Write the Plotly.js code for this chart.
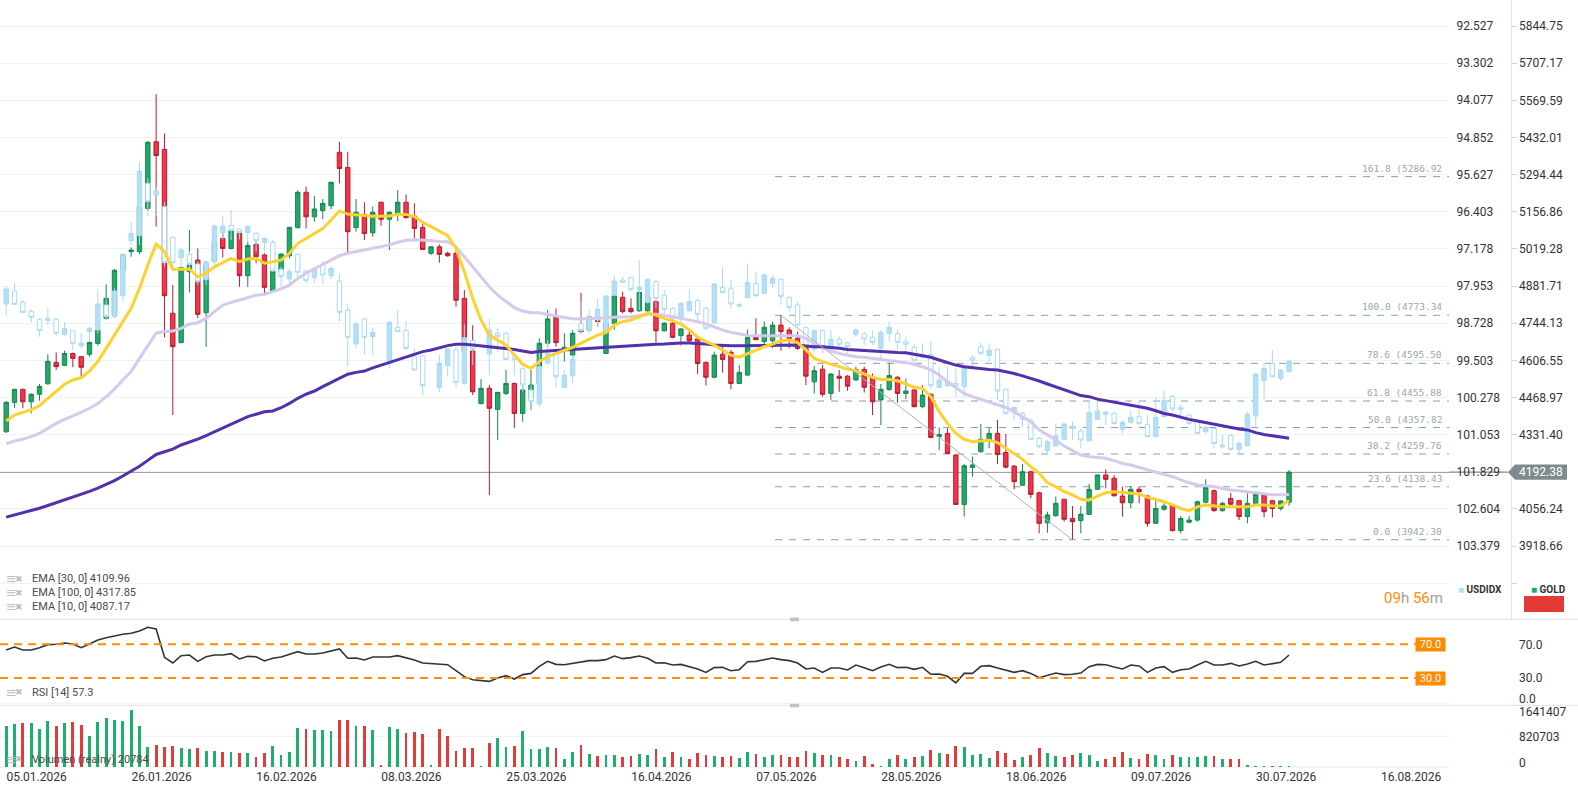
<!DOCTYPE html>
<html>
<head>
<meta charset="utf-8">
<script src="https://cdn.plot.ly/plotly-3.0.1.min.js"></script>
<style>html,body{margin:0;padding:0;background:#fff;}#chart{width:1578px;height:792px;}</style>
</head>
<body>
<div id="chart"></div>
<script>
// ---------------- DATA ----------------
const goldOpen = [4342,4451,4499,4453,4481,4520,4599,4588,4632,4620,
4629,4669,4762,4774,4940,5009,5009,5169,5416,5388,
4781,4672,4935,4978,4783,4974,5058,5021,5079,4920,
5036,4997,4864,4935,4994,5098,5229,5138,5161,5179,
5377,5321,5098,5147,5079,5192,5129,5148,5192,5141,
5099,5003,5027,5003,5003,4836,4641,4447,4503,4425,
4484,4521,4410,4466,4521,4670,4765,4645,4626,4719,
4719,4762,4632,4744,4840,4799,4790,4790,4824,4716,
4744,4698,4700,4686,4599,4544,4629,4636,4521,4552,
4692,4676,4679,4737,4719,4688,4657,4527,4574,4484,
4548,4548,4534,4573,4540,4460,4499,4544,4484,4497,
4435,4481,4324,4336,4256,4073,4210,4268,4311,4336,
4265,4215,4144,4194,4116,4005,4031,4092,4021,4013,
4036,4129,4182,4170,4104,4079,4129,4104,4003,4055,
4070,3976,4007,4015,4081,4124,4050,4095,4087,4028,
4077,4108,4087,4058,4081];
const goldHigh = [4456,4502,4502,4484,4519,4629,4636,4642,4635,4623,
4678,4727,4888,4945,5000,5025,5256,5419,5592,5447,
4886,4953,5089,5021,4972,5083,5089,5108,5086,5046,
5046,5003,4940,5003,5101,5237,5250,5215,5204,5268,
5416,5379,5204,5192,5176,5194,5157,5237,5221,5188,
5122,5030,5036,5009,5021,4867,4737,4537,4515,4490,
4571,4524,4527,4571,4688,4793,4799,4707,4719,4857,
4771,4793,4768,4848,4861,4836,4865,4848,4830,4748,
4787,4725,4725,4688,4602,4639,4657,4645,4589,4721,
4762,4750,4750,4773.34,4729,4713,4660,4586,4589,4558,
4571,4552,4583,4583,4558,4519,4598,4548,4539,4499,
4515,4484,4358,4355,4260,4223,4250,4371,4357,4386,
4334,4219,4223,4198,4120,4046,4102,4094,4067,4067,
4149,4184,4203,4182,4139,4141,4139,4108,4095,4077,
4074,4030,4030,4087,4166,4129,4083,4116,4089,4114,
4114,4112,4089,4088,4200];
const goldLow = [4338,4431,4429,4410,4457,4516,4571,4585,4581,4546,
4620,4661,4758,4770,4935,4990,5000,5160,5102,4692,
4404,4670,4858,4763,4657,4970,4987,5018,4879,4879,
4966,4851,4861,4916,4984,5095,5095,5120,5130,5166,
5262,5003,5083,5052,5064,5105,5015,5122,5132,5058,
5015,4997,4968,4990,4805,4577,4478,4443,4108,4311,
4478,4355,4379,4422,4509,4657,4657,4602,4608,4707,
4715,4731,4630,4719,4781,4781,4787,4787,4672,4713,
4688,4661,4676,4556,4513,4540,4561,4500,4519,4550,
4683,4657,4651,4642,4651,4645,4515,4484,4472,4460,
4490,4494,4531,4487,4404,4367,4494,4450,4463,4432,
4429,4318,4274,4260,4071,4028,4176,4265,4281,4223,
4207,4129,4141,4096,3966,3968,4028,4009,3942.3,3966,
4034,4126,4132,4102,4028,4058,4077,3991,4000,4050,
3973,3966,4003,4009,4077,4046,4046,4071,4015,4003,
4070,4025,4025,4050,4068];
const goldClose = [4451,4499,4453,4481,4510,4603,4583,4632,4614,4581,
4673,4719,4836,4940,4997,5015,5176,5414,5365,4846,
4657,4950,4960,4777,4960,5046,5021,5086,4920,5032,
4990,4877,4937,5000,5099,5229,5138,5167,5188,5266,
5317,5083,5155,5076,5155,5129,5155,5192,5135,5095,
5017,5027,4999,4994,4829,4641,4490,4503,4429,4488,
4521,4410,4497,4515,4670,4760,4672,4655,4707,4713,
4768,4750,4744,4845,4787,4787,4858,4842,4716,4744,
4692,4723,4679,4595,4544,4626,4610,4521,4562,4692,
4683,4729,4737,4713,4688,4651,4548,4568,4481,4556,
4540,4511,4573,4507,4453,4499,4550,4484,4493,4435,
4478,4321,4332,4262,4073,4216,4219,4314,4336,4258,
4211,4157,4194,4110,4003,4034,4077,4018,4009,4037,
4129,4182,4166,4105,4079,4129,4120,4003,4058,4067,
3976,4021,4015,4083,4136,4050,4077,4074,4028,4077,
4110,4046,4058,4086,4192.38];

const usdOpen = [98.327,98.056,98.292,98.48,98.647,98.626,98.647,98.96,98.883,99.196,
98.904,98.869,98.348,98.591,98.153,97.006,96.901,95.809,96.053,96.296,
96.936,97.36,97.291,97.492,97.812,97.444,96.839,96.686,96.762,96.839,
96.853,97.047,97.04,97.603,97.805,97.291,97.638,97.777,97.499,97.736,
97.847,98.452,99.161,98.64,99.008,null,99.564,98.813,98.876,99.412,
99.412,null,100.072,99.613,99.286,99.982,99.092,null,99.37,98.939,
98.939,99.412,99.669,100.121,100.413,99.551,99.356,100.066,99.822,98.73,
98.869,98.661,98.904,98.139,97.826,97.771,98.035,98.292,97.861,98.139,
98.417,98.64,98.466,98.257,98.417,98.716,97.98,98.0,98.334,98.195,
97.896,98.105,97.896,97.812,98.188,98.348,98.814,99.273,98.883,99.252,
99.064,99.134,98.96,98.953,99.022,99.252,98.939,98.939,99.113,99.231,
99.377,99.377,100.066,100.038,99.982,100.052,99.44,99.217,99.405,99.273,
100.107,100.594,100.608,100.761,101.13,101.387,101.289,101.15,100.921,100.976,
101.178,100.733,100.629,100.608,100.942,100.796,100.677,100.837,101.095,100.677,
100.26,100.49,100.643,100.768,100.99,100.921,101.269,101.074,101.359,101.282,
100.664,99.926,99.565,99.878,99.739];
const usdHigh = [98.570,98.348,98.515,98.709,99.008,98.765,98.987,98.987,99.286,99.252,
99.113,98.939,98.661,98.626,98.278,97.096,97.096,96.505,96.505,97.548,
97.569,97.569,97.569,97.93,97.93,97.513,96.978,96.992,96.978,97.026,
97.235,97.235,97.652,97.965,97.965,97.791,97.896,97.896,97.916,97.805,
98.695,99.634,99.252,99.377,99.405,null,99.669,98.904,99.286,99.724,
100.239,null,100.17,99.843,100.065,100.003,99.599,null,99.808,99.321,
99.495,99.808,100.156,100.538,100.469,99.6,100.066,100.087,99.968,98.974,
98.939,98.8,98.939,98.174,97.896,98.07,98.452,98.313,98.417,98.591,
98.696,98.744,98.487,98.696,98.869,98.744,98.105,98.417,98.417,98.209,
98.174,98.118,98.0,98.348,98.487,98.8,99.252,99.321,99.356,99.356,
99.217,99.356,99.008,99.182,99.182,99.461,99.113,99.287,99.287,99.53,
99.461,100.087,100.087,100.045,100.26,100.26,99.635,99.391,99.53,100.33,
100.643,100.747,100.886,101.165,101.338,101.477,101.303,101.164,101.164,101.338,
101.199,100.747,100.851,100.851,101.025,100.817,100.851,101.109,101.109,100.691,
100.573,100.677,100.851,101.039,101.025,101.338,101.338,101.373,101.477,101.303,
100.9,100.316,99.864,99.926,99.759];
const usdLow = [97.965,97.896,98.243,98.431,98.626,98.41,98.605,98.709,98.869,98.939,
98.8,98.014,98.209,98.0,97.27,96.616,95.371,95.705,95.879,96.206,
96.922,97.165,97.235,97.444,97.43,96.665,96.491,96.366,96.748,96.679,
96.818,96.95,96.992,97.548,97.583,97.27,97.617,97.548,97.43,97.548,
97.708,98.313,98.695,98.626,98.82,null,98.681,98.452,98.681,99.252,
99.391,null,99.391,99.252,99.217,98.751,99.078,null,98.64,98.834,
98.904,99.391,99.655,100.017,99.287,99.078,99.252,99.704,99.391,98.278,
98.452,98.209,98.139,97.743,97.757,97.757,97.409,97.792,97.826,98.035,
98.383,98.278,98.021,98.209,98.383,97.896,97.548,97.826,98.313,97.479,
97.652,97.687,97.722,97.792,98.174,98.278,98.8,98.856,98.856,98.869,
98.995,99.113,98.835,98.904,98.883,98.869,98.696,98.856,99.008,99.148,
99.148,99.113,99.635,99.635,99.669,99.6,99.391,99.134,99.148,99.252,
100.087,100.469,100.573,100.712,101.095,101.164,100.817,100.817,100.782,100.921,
100.33,100.364,100.573,100.573,100.747,100.538,100.344,100.643,100.26,100.135,
100.225,100.434,100.622,100.733,100.872,100.9,101.06,101.039,101.199,100.573,
99.773,99.551,99.287,99.69,99.509];
const usdClose = [98.014,98.334,98.501,98.605,98.883,98.675,98.939,98.834,99.147,99.14,
98.834,98.327,98.591,98.056,97.305,96.853,95.552,96.192,95.969,97.464,
97.464,97.2,97.499,97.861,97.444,96.7,96.7,96.797,96.839,96.713,
97.006,96.957,97.638,97.756,97.652,97.666,97.84,97.583,97.722,97.583,
98.501,99.022,98.744,99.022,98.918,null,98.709,98.904,99.252,99.704,
100.03,null,99.564,99.265,99.961,99.029,99.265,null,98.869,99.008,
99.481,99.481,100.017,100.364,99.634,99.356,99.843,99.808,99.474,98.883,
98.591,98.438,98.16,97.847,97.875,98.021,97.98,97.812,98.209,98.438,
98.64,98.313,98.278,98.543,98.835,97.91,98.091,98.327,98.369,97.875,
98.153,97.722,97.792,98.174,98.397,98.765,99.217,98.883,99.217,99.064,
99.168,99.217,98.869,99.057,99.127,98.918,98.814,99.127,99.168,99.509,
99.44,100.031,99.913,99.934,100.038,99.655,99.496,99.356,99.287,100.142,
100.608,100.483,100.733,101.151,101.304,101.199,101.081,100.83,100.872,101.164,
100.594,100.559,100.58,100.817,100.796,100.691,100.817,101.095,100.691,100.344,
100.517,100.524,100.817,101.025,100.9,101.234,101.303,101.359,101.234,100.622,
99.787,99.669,99.843,99.704,99.516];

const ema10 = [4382,4404,4414,4423,4439,4466,4490,4518,4534,4542,
4567,4602,4651,4703,4750,4799,4873,4960,5037,5009,
4944,4944,4945,4916,4929,4953,4968,4984,4972,4982,
4984,4966,4972,4978,5003,5040,5058,5077,5095,5126,
5160,5148,5145,5141,5140,5140,5141,5148,5147,5139,
5118,5102,5085,5068,5021,4935,4836,4756,4700,4682,
4663,4626,4592,4577,4602,4620,4632,4645,4655,4670,
4684,4700,4709,4737,4750,4756,4768,4781,4774,4762,
4753,4741,4719,4692,4676,4663,4645,4626,4618,4632,
4645,4657,4667,4679,4682,4672,4645,4614,4602,4593,
4583,4574,4568,4556,4544,4536,4536,4531,4519,4507,
4503,4472,4416,4373,4336,4314,4305,4309,4311,4302,
4281,4258,4240,4213,4188,4153,4139,4120,4108,4092,
4089,4104,4116,4120,4116,4114,4112,4099,4092,4083,
4071,4058,4050,4064,4071,4068,4064,4064,4064,4064,
4071,4071,4067,4068,4087.17];
const ema30 = [4297,4308,4315,4324,4336,4355,4373,4388,4400,4414,
4429,4447,4472,4500,4534,4565,4614,4663,4707,4713,
4715,4725,4741,4746,4762,4787,4811,4821,4830,4840,
4848,4851,4861,4871,4885,4910,4929,4945,4960,4978,
4994,5003,5009,5015,5021,5026,5034,5044,5051,5053,
5052,5050,5047,5046,5027,4990,4953,4916,4879,4848,
4824,4802,4789,4783,4783,4778,4771,4765,4761,4760,
4760,4762,4765,4766,4768,4768,4772,4777,4777,4773,
4768,4762,4756,4750,4741,4729,4719,4710,4704,4699,
4698,4698,4698,4698,4697,4698,4688,4670,4653,4642,
4632,4626,4620,4618,4614,4610,4608,4604,4598,4592,
4583,4571,4552,4527,4506,4484,4472,4462,4453,4441,
4432,4416,4398,4379,4349,4330,4312,4289,4274,4256,
4250,4246,4244,4235,4225,4219,4210,4200,4192,4184,
4176,4163,4153,4145,4142,4139,4132,4126,4124,4120,
4116,4112,4109,4109,4109.96];
const ema100 = [4026,4034,4042,4050,4059,4069,4079,4090,4100,4110,
4121,4133,4146,4161,4178,4195,4214,4236,4258,4268,
4278,4293,4303,4315,4328,4342,4357,4370,4386,4398,
4407,4416,4419,4431,4447,4466,4481,4493,4509,4525,
4540,4555,4562,4567,4579,4589,4599,4610,4620,4629,
4639,4645,4653,4661,4666,4666,4663,4660,4656,4653,
4651,4647,4641,4636,4639,4641,4642,4645,4647,4649,
4651,4653,4655,4657,4660,4661,4663,4665,4666,4667,
4670,4671,4671,4670,4667,4663,4661,4661,4661,4661,
4661,4661,4662,4663,4662,4663,4660,4657,4657,4655,
4651,4647,4645,4642,4641,4639,4637,4636,4635,4630,
4624,4618,4608,4598,4589,4583,4579,4576,4573,4571,
4565,4558,4549,4540,4530,4519,4509,4497,4487,4476,
4472,4463,4457,4453,4447,4441,4435,4429,4420,4410,
4404,4395,4388,4382,4376,4371,4363,4358,4352,4349,
4339,4332,4328,4324,4317.85];

const rsi14 = [63.3,66.8,63.3,63.3,66.0,69.6,70.0,71.6,70.4,66.0,
70.4,75.1,77.9,80.3,81.9,83.1,85.8,90.2,88.2,54.6,
47.8,56.5,57.3,49.8,55.3,57.3,57.3,58.9,52.6,55.7,
55.3,50.2,53.4,55.0,57.7,61.3,58.5,58.5,59.7,61.7,
64.5,53.4,53.8,51.4,55.0,55.0,55.0,56.5,54.2,51.4,
47.8,47.4,47.0,45.8,38.7,31.6,28.0,27.2,26.0,30.0,
32.8,28.8,34.0,35.5,43.9,49.8,46.2,45.8,47.4,49.4,
50.6,50.6,51.8,56.1,53.0,54.2,56.1,53.4,47.8,48.2,
45.4,46.2,43.9,40.7,36.7,42.3,42.7,38.7,39.9,49.4,
49.8,52.2,53.8,51.8,50.6,47.8,40.7,41.9,36.7,41.9,
41.9,39.5,45.4,42.3,38.7,43.1,46.2,42.3,42.7,40.3,
42.7,34.4,34.8,32.0,24.1,35.5,35.5,43.9,44.7,41.9,
39.1,36.7,38.7,35.5,30.4,33.6,35.9,34.0,34.4,35.9,
43.5,46.2,45.8,43.1,40.7,45.4,44.3,36.7,41.9,43.5,
36.7,39.9,40.7,45.4,49.8,45.4,45.4,47.4,44.3,46.6,
49.8,45.4,46.6,48.6,57.3];

const volume = [1091000,1144000,1170000,1170000,1013000,1222000,1091000,1170000,1196000,1118000,
829000,1196000,1301000,1266000,1222000,1537000,1091000,541000,585000,541000,
568000,515000,471000,515000,437000,437000,410000,410000,384000,384000,
279000,384000,568000,332000,410000,1039000,1013000,987000,987000,960000,
1249000,1249000,1091000,1091000,987000,44000,1065000,1013000,917000,934000,
882000,44000,1013000,829000,437000,515000,515000,17000,646000,777000,
541000,568000,960000,489000,489000,541000,515000,227000,410000,594000,
358000,306000,332000,332000,279000,306000,358000,332000,489000,279000,
410000,279000,227000,384000,332000,306000,262000,306000,236000,410000,
358000,279000,332000,332000,262000,262000,437000,384000,332000,332000,
279000,227000,148000,306000,70000,17000,201000,332000,227000,279000,
306000,463000,384000,358000,568000,541000,332000,358000,253000,437000,
384000,175000,279000,332000,515000,384000,306000,279000,332000,384000,
332000,148000,227000,279000,410000,253000,227000,358000,332000,227000,
332000,279000,279000,279000,306000,306000,227000,227000,227000,61000,
17000,17000,17000,17000,20784];

const dateTickBars = [4,19,34,49,64,79,94,109,124,139,154,169];
const dateTickText = ['05.01.2026','26.01.2026','16.02.2026','08.03.2026','25.03.2026','16.04.2026','07.05.2026','28.05.2026','18.06.2026','09.07.2026','30.07.2026','16.08.2026'];

const goldTickVals = [5844.75,5707.17,5569.59,5432.01,5294.44,5156.86,5019.28,4881.71,4744.13,4606.55,4468.97,4331.40,4193.82,4056.24,3918.66,3781.08];
const goldTickText = ['5844.75','5707.17','5569.59','5432.01','5294.44','5156.86','5019.28','4881.71','4744.13','4606.55','4468.97','4331.40','','4056.24','3918.66',''];
const usdTickVals = [92.527,93.302,94.077,94.852,95.627,96.403,97.178,97.953,98.728,99.503,100.278,101.053,101.829,102.604,103.379];
const usdTickText = ['92.527','93.302','94.077','94.852','95.627','96.403','97.178','97.953','98.728','99.503','100.278','101.053','101.829','102.604','103.379'];
const rsiTickVals = [4.75,30,70];
const rsiTickText = ['0.0','30.0','70.0'];
const volTickVals = [107000,820703,1489000];
const volTickText = ['0','820703','1641407'];

const fibLevels = [161.8,100.0,78.6,61.8,50.0,38.2,23.6,0.0];
const fibPrices = [5286.92,4773.34,4595.50,4455.88,4357.82,4259.76,4138.43,3942.30];
const fibStartBar = 92.3;
const trendFrom = {bar:93, price:4773.34};
const trendTo = {bar:128, price:3942.30};
const lastPrice = 4192.38;
const rsiLevels = [70,30];
const legendEma = ['EMA [30, 0] 4109.96','EMA [100, 0] 4317.85','EMA [10, 0] 4087.17'];
const legendRsi = 'RSI [14] 57.3';
const legendVol = 'Volumen (realny) 20784';

// ---------------- LAYOUT HELPERS ----------------
const W = 1578, H = 792, PH = 768;
const px = x => x / W;
const py = y => (PH - y) / PH;
const xRange = [-0.744, 173.2];
const goldRange = [3647.55, 5941.04];
const usdRange = [104.904, 91.985];
const rsiRange = [-2.4, 99.7];
const volRange = [-26733, 1649426];
const mainBottom = py(619.3);
const goldToPaper = v => mainBottom + (v - goldRange[0]) / (goldRange[1] - goldRange[0]) * (1 - mainBottom);

const idx = goldClose.map((_, i) => i);
const volColors = goldClose.map((c, i) => c >= goldOpen[i] ? '#1db06c' : '#e53a3a');

const traces = [
  {type:'candlestick', x:idx, open:goldOpen, high:goldHigh, low:goldLow, close:goldClose,
   xaxis:'x', yaxis:'y', whiskerwidth:0, hoverinfo:'skip',
   increasing:{line:{color:'#17864f', width:1}, fillcolor:'#23a86a'},
   decreasing:{line:{color:'#b51d2d', width:1}, fillcolor:'#f5334b'}},
  {type:'candlestick', x:idx, open:usdOpen, high:usdHigh, low:usdLow, close:usdClose,
   xaxis:'x', yaxis:'y2', whiskerwidth:0, hoverinfo:'skip',
   increasing:{line:{color:'#a8daf4', width:1}, fillcolor:'#ffffff'},
   decreasing:{line:{color:'#a8daf4', width:1}, fillcolor:'#b4e0f7'}},
  {type:'scatter', mode:'lines', x:idx, y:ema30, xaxis:'x', yaxis:'y5', line:{color:'#d5c9ec', width:3}, hoverinfo:'skip'},
  {type:'scatter', mode:'lines', x:idx, y:ema100, xaxis:'x', yaxis:'y5', line:{color:'#5330ad', width:3}, hoverinfo:'skip'},
  {type:'scatter', mode:'lines', x:idx, y:ema10, xaxis:'x', yaxis:'y5', line:{color:'#fdd22e', width:3}, hoverinfo:'skip'},
  {type:'scatter', mode:'lines', x:idx, y:rsi14, xaxis:'x', yaxis:'y3', line:{color:'#2f3437', width:1.6}, hoverinfo:'skip'},
  {type:'bar', x:idx, y:volume, xaxis:'x', yaxis:'y4', width:0.33, marker:{color:volColors, line:{width:0}}, hoverinfo:'skip'}
];

const axisFont = {family:'Roboto, sans-serif', size:12, color:'#333'};
const shapes = [];
const annotations = [];
function note(o) { annotations.push(Object.assign({showarrow:false, xanchor:'center', yanchor:'middle'}, o)); }

// separators and handles
[619.3, 705.3].forEach(y => {
  shapes.push({type:'line', xref:'paper', yref:'paper', x0:0, x1:1, y0:py(y), y1:py(y), line:{color:'#e2e2e2', width:1}});
  shapes.push({type:'rect', xref:'paper', yref:'paper', x0:px(790), x1:px(799), y0:py(y+2), y1:py(y-1.8), fillcolor:'#c2c2c2', line:{width:0}});
});

// fibonacci levels
fibLevels.forEach((lv, k) => {
  const p = fibPrices[k];
  shapes.push({type:'line', xref:'x', yref:'y', x0:fibStartBar, x1:xRange[1], y0:p, y1:p, layer:'below',
    line:{color:'#8c9ea7', width:1, dash:'7px,7px'}});
  note({xref:'paper', yref:'y', x:px(1444), y:p, xanchor:'right', yanchor:'bottom', yshift:1,
    text: lv.toFixed(1) + ' (' + p.toFixed(2),
    font:{family:'DejaVu Sans Mono, monospace', size:9.5, color:'#9aa7ae'}});
});
// trend line of the fib retracement
shapes.push({type:'line', xref:'x', yref:'y', x0:trendFrom.bar, y0:trendFrom.price, x1:trendTo.bar, y1:trendTo.price,
  line:{color:'#a9b5bb', width:1}});

// last price line + label
const lpY = goldToPaper(lastPrice);
shapes.push({type:'line', xref:'paper', yref:'paper', x0:0, x1:px(1508), y0:lpY, y1:lpY, layer:'below', line:{color:'#7d888d', width:1.2}});
const hh = 7.6 / PH;
shapes.push({type:'path', xref:'paper', yref:'paper',
  path:'M ' + px(1508) + ' ' + lpY + ' L ' + px(1515) + ' ' + (lpY + hh) + ' L ' + px(1567) + ' ' + (lpY + hh) +
       ' L ' + px(1567) + ' ' + (lpY - hh) + ' L ' + px(1515) + ' ' + (lpY - hh) + ' Z',
  fillcolor:'#7f8a8f', line:{width:0}});
note({xref:'paper', yref:'paper', x:px(1541), y:lpY, text:lastPrice.toFixed(2),
  font:{family:'Roboto, sans-serif', size:12, color:'#ffffff'}});

// RSI level lines + boxes
rsiLevels.forEach(l => {
  shapes.push({type:'line', xref:'x', yref:'y3', x0:xRange[0], x1:169.2, y0:l, y1:l,
    line:{color:'#ff8f00', width:2, dash:'8px,6px'}});
  note({xref:'paper', yref:'y3', x:px(1430.5), y:l, text:l.toFixed(1),
    bgcolor:'#ff8c00', width:29, height:13, borderpad:0,
    font:{family:'Roboto, sans-serif', size:11, color:'#ffffff'}});
});
shapes.push({type:'line', xref:'x', yref:'y3', x0:xRange[0], x1:xRange[1], y0:0, y1:0, line:{color:'#efefef', width:1}});

// volume grid
shapes.push({type:'line', xref:'x', yref:'y4', x0:xRange[0], x1:xRange[1], y0:820703, y1:820703, layer:'below', line:{color:'#efefef', width:1}});
shapes.push({type:'line', xref:'x', yref:'y4', x0:xRange[0], x1:xRange[1], y0:0, y1:0, layer:'below', line:{color:'#ececec', width:1}});

// legend texts
function legendRow(t, y) {
  note({xref:'paper', yref:'paper', x:px(4), y:py(y), xanchor:'left', text:'≡',
    font:{family:'DejaVu Sans', size:13, color:'#bdbdbd'}});
  note({xref:'paper', yref:'paper', x:px(13), y:py(y), xanchor:'left', text:'✖',
    font:{family:'DejaVu Sans', size:9, color:'#bdbdbd'}});
  note({xref:'paper', yref:'paper', x:px(30), y:py(y), xanchor:'left', text:t,
    font:{family:'Roboto, sans-serif', size:11, color:'#4a4a4a'}});
}
const legendYs = [578.5, 592.5, 606.5];
legendEma.forEach((t, k) => legendRow(t, legendYs[k]));
legendRow(legendRsi, 692);
legendRow(legendVol, 759);

// instrument tags, countdown, button
note({xref:'paper', yref:'paper', x:px(1456), y:py(589), xanchor:'left',
  text:'<span style="color:#b4e0f7">■</span> <b>USDIDX</b>', font:{family:'Roboto, sans-serif', size:10, color:'#333'}});
note({xref:'paper', yref:'paper', x:px(1529), y:py(589), xanchor:'left',
  text:'<span style="color:#23a86a">■</span> <b>GOLD</b>', font:{family:'Roboto, sans-serif', size:10, color:'#333'}});
note({xref:'paper', yref:'paper', x:px(1445), y:py(598), xanchor:'right',
  text:'<span style="color:#ff8c00">09</span><span style="color:#a0a0a0">h</span> <span style="color:#ff8c00">56</span><span style="color:#a0a0a0">m</span>',
  font:{family:'Roboto, sans-serif', size:15}});
shapes.push({type:'rect', xref:'paper', yref:'paper', x0:px(1524), x1:px(1564), y0:py(612), y1:py(596),
  fillcolor:'#e53935', line:{width:0}});

const layout = {
  width:W, height:H, margin:{l:0, r:0, t:0, b:H-PH, pad:0},
  paper_bgcolor:'#ffffff', plot_bgcolor:'#ffffff', showlegend:false, hovermode:false,
  font:{family:'Roboto, sans-serif', size:12, color:'#333'},
  boxgap:0.25, bargap:0,
  xaxis:{domain:[0, px(1449)], range:xRange, anchor:'y4', rangeslider:{visible:false},
    showgrid:false, zeroline:false, showline:false, ticks:'', automargin:false,
    tickmode:'array', tickvals:dateTickBars.map(b => b - 0.35), ticktext:dateTickText, tickfont:axisFont},
  yaxis:{domain:[mainBottom, 1], range:goldRange, side:'right', anchor:'free', position:px(1510.7),
    showline:true, linecolor:'#e6e6e6', linewidth:1, ticks:'outside', ticklen:5, tickcolor:'#d6d6d6',
    tickmode:'array', tickvals:goldTickVals, ticktext:goldTickText, showgrid:true, gridcolor:'#f1f1f1',
    zeroline:false, automargin:false, tickfont:axisFont},
  yaxis2:{overlaying:'y', side:'right', anchor:'x', range:usdRange, tickmode:'array',
    tickvals:usdTickVals, ticktext:usdTickText, showgrid:false, zeroline:false, showline:false,
    ticks:'outside', ticklen:4, tickcolor:'rgba(0,0,0,0)', automargin:false, tickfont:axisFont},
  yaxis5:{overlaying:'y', range:goldRange, visible:false, showgrid:false, zeroline:false},
  yaxis3:{domain:[py(705.3), mainBottom], range:rsiRange, side:'right', anchor:'free', position:px(1510.7),
    tickmode:'array', tickvals:rsiTickVals, ticktext:rsiTickText, showgrid:false, zeroline:false, showline:false,
    ticks:'outside', ticklen:5, tickcolor:'rgba(0,0,0,0)', automargin:false, tickfont:axisFont},
  yaxis4:{domain:[0, py(705.3)], range:volRange, side:'right', anchor:'free', position:px(1510.7),
    tickmode:'array', tickvals:volTickVals, ticktext:volTickText, showgrid:false, zeroline:false, showline:false,
    ticks:'outside', ticklen:5, tickcolor:'rgba(0,0,0,0)', automargin:false, tickfont:axisFont},
  shapes:shapes,
  annotations:annotations
};

Plotly.newPlot('chart', traces, layout, {staticPlot:true, displayModeBar:false});
</script>
</body>
</html>
